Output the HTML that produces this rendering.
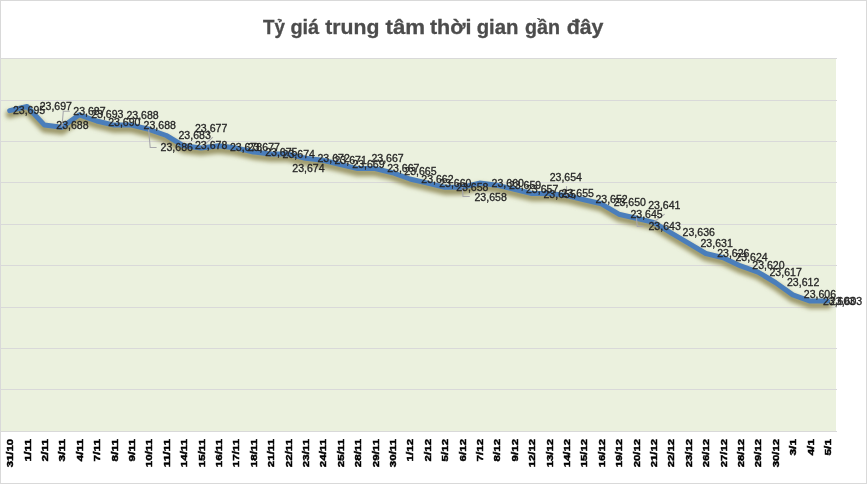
<!DOCTYPE html>
<html lang="vi">
<head>
<meta charset="utf-8">
<title>Tỷ giá trung tâm thời gian gần đây</title>
<style>
html,body{margin:0;padding:0;background:#fff;}
body{width:867px;height:484px;overflow:hidden;font-family:"Liberation Sans",sans-serif;}
svg{display:block;}
.t{font-family:"Liberation Sans",sans-serif;font-weight:bold;font-size:20.7px;fill:#4c4c4c;stroke:#4c4c4c;stroke-width:0.3px;}
.d{font-family:"Liberation Sans",sans-serif;font-size:10.4px;fill:#262626;stroke:#262626;stroke-width:0.3px;}
.a{font-family:"Liberation Sans",sans-serif;font-weight:bold;font-size:9.8px;fill:#000;stroke:#000;stroke-width:0.45px;}
.g{stroke:#d9d9d9;stroke-width:1;shape-rendering:crispEdges;}
.l{stroke:#a8a8ac;stroke-width:1.1;fill:none;}
</style>
</head>
<body>
<svg width="867" height="484" viewBox="0 0 867 484">
<defs>
<filter id="sh" x="-5%" y="-20%" width="110%" height="150%">
<feGaussianBlur stdDeviation="2.0"/>
</filter>
</defs>
<rect x="0" y="0" width="867" height="484" fill="#fff"/>
<rect x="0.5" y="0.5" width="866" height="483" fill="none" stroke="#d9d9d9" stroke-width="1"/>
<rect x="1" y="58" width="835" height="373" fill="#ebf1de"/>
<line class="g" x1="1" x2="837" y1="58.5" y2="58.5"/>
<line class="g" x1="1" x2="837" y1="100.5" y2="100.5"/>
<line class="g" x1="1" x2="837" y1="141.5" y2="141.5"/>
<line class="g" x1="1" x2="837" y1="182.5" y2="182.5"/>
<line class="g" x1="1" x2="837" y1="224.5" y2="224.5"/>
<line class="g" x1="1" x2="837" y1="265.5" y2="265.5"/>
<line class="g" x1="1" x2="837" y1="307.5" y2="307.5"/>
<line class="g" x1="1" x2="837" y1="348.5" y2="348.5"/>
<line class="g" x1="1" x2="837" y1="389.5" y2="389.5"/>
<line class="g" x1="1" x2="837" y1="431.5" y2="431.5"/>
<polyline points="9.7,110.6 27.1,106.5 44.5,125.1 61.9,127.2 79.3,114.8 96.7,121.0 114.1,125.1 131.5,125.1 148.9,129.3 166.3,135.5 183.7,145.8 201.1,147.9 218.5,145.8 235.9,147.9 253.3,152.0 270.7,154.1 288.1,154.1 305.5,158.2 322.9,160.3 340.3,164.5 357.7,168.6 375.1,168.6 392.5,172.7 409.9,179.0 427.4,183.1 444.8,187.2 462.2,187.2 479.6,183.1 497.0,185.2 514.4,189.3 531.8,193.5 549.2,193.5 566.6,195.5 584.0,199.7 601.4,203.8 618.8,214.2 636.2,218.3 653.6,222.4 671.0,232.8 688.4,243.2 705.8,253.5 723.2,257.7 740.6,265.9 758.0,272.1 775.4,282.5 792.8,294.9 810.2,301.1 827.6,301.1" transform="translate(0,3.8)" fill="none" stroke="#938e5d" stroke-opacity="0.9" stroke-width="7.8" stroke-linecap="round" stroke-linejoin="round" filter="url(#sh)"/>
<polyline points="9.7,110.6 27.1,106.5 44.5,125.1 61.9,127.2 79.3,114.8 96.7,121.0 114.1,125.1 131.5,125.1 148.9,129.3 166.3,135.5 183.7,145.8 201.1,147.9 218.5,145.8 235.9,147.9 253.3,152.0 270.7,154.1 288.1,154.1 305.5,158.2 322.9,160.3 340.3,164.5 357.7,168.6 375.1,168.6 392.5,172.7 409.9,179.0 427.4,183.1 444.8,187.2 462.2,187.2 479.6,183.1 497.0,185.2 514.4,189.3 531.8,193.5 549.2,193.5 566.6,195.5 584.0,199.7 601.4,203.8 618.8,214.2 636.2,218.3 653.6,222.4 671.0,232.8 688.4,243.2 705.8,253.5 723.2,257.7 740.6,265.9 758.0,272.1 775.4,282.5 792.8,294.9 810.2,301.1 827.6,301.1" fill="none" stroke="#4a7ebb" stroke-width="5" stroke-linecap="round" stroke-linejoin="round"/>
<path class="l" d="M61.9,127 L63.3,111.3 H69.8"/>
<path class="l" d="M148.6,129.2 L150.2,147.5 H156.6"/>
<path class="l" d="M201.3,147.7 L212.9,137.2"/>
<path class="l" d="M462.3,187 L463,196.5 H469.7"/>
<path class="l" d="M566.5,195.5 V186.1"/>
<path class="l" d="M636.4,218.1 L637.3,226.4 H643.5"/>
<path class="l" d="M653.7,222 L664.7,214.1"/>
<text class="d" x="12.9" y="113.6" textLength="32.3" lengthAdjust="spacingAndGlyphs">23,695</text>
<text class="d" x="39.7" y="109.8" textLength="32.3" lengthAdjust="spacingAndGlyphs">23,697</text>
<text class="d" x="56.3" y="128.8" textLength="32.3" lengthAdjust="spacingAndGlyphs">23,688</text>
<text class="d" x="73.3" y="114.8" textLength="32.3" lengthAdjust="spacingAndGlyphs">23,687</text>
<text class="d" x="91.2" y="117.9" textLength="32.3" lengthAdjust="spacingAndGlyphs">23,693</text>
<text class="d" x="108.2" y="125.5" textLength="32.3" lengthAdjust="spacingAndGlyphs">23,690</text>
<text class="d" x="126.4" y="118.7" textLength="32.3" lengthAdjust="spacingAndGlyphs">23,688</text>
<text class="d" x="143.6" y="128.8" textLength="32.3" lengthAdjust="spacingAndGlyphs">23,688</text>
<text class="d" x="160.6" y="150.8" textLength="32.3" lengthAdjust="spacingAndGlyphs">23,686</text>
<text class="d" x="178.5" y="138.9" textLength="32.3" lengthAdjust="spacingAndGlyphs">23,683</text>
<text class="d" x="195.0" y="149.0" textLength="32.3" lengthAdjust="spacingAndGlyphs">23,678</text>
<text class="d" x="195.0" y="131.9" textLength="32.3" lengthAdjust="spacingAndGlyphs">23,677</text>
<text class="d" x="229.9" y="151.0" textLength="32.3" lengthAdjust="spacingAndGlyphs">23,678</text>
<text class="d" x="247.7" y="151.0" textLength="32.3" lengthAdjust="spacingAndGlyphs">23,677</text>
<text class="d" x="265.2" y="155.6" textLength="32.3" lengthAdjust="spacingAndGlyphs">23,675</text>
<text class="d" x="282.6" y="157.8" textLength="32.3" lengthAdjust="spacingAndGlyphs">23,674</text>
<text class="d" x="292.3" y="172.0" textLength="32.3" lengthAdjust="spacingAndGlyphs">23,674</text>
<text class="d" x="317.5" y="161.9" textLength="32.3" lengthAdjust="spacingAndGlyphs">23,672</text>
<text class="d" x="334.5" y="163.8" textLength="32.3" lengthAdjust="spacingAndGlyphs">23,671</text>
<text class="d" x="352.3" y="167.7" textLength="32.3" lengthAdjust="spacingAndGlyphs">23,669</text>
<text class="d" x="371.4" y="161.5" textLength="32.3" lengthAdjust="spacingAndGlyphs">23,667</text>
<text class="d" x="387.2" y="171.9" textLength="32.3" lengthAdjust="spacingAndGlyphs">23,667</text>
<text class="d" x="404.3" y="175.4" textLength="32.3" lengthAdjust="spacingAndGlyphs">23,665</text>
<text class="d" x="421.3" y="183.0" textLength="32.3" lengthAdjust="spacingAndGlyphs">23,662</text>
<text class="d" x="439.2" y="186.9" textLength="32.3" lengthAdjust="spacingAndGlyphs">23,660</text>
<text class="d" x="456.2" y="191.2" textLength="32.3" lengthAdjust="spacingAndGlyphs">23,658</text>
<text class="d" x="474.5" y="200.9" textLength="32.3" lengthAdjust="spacingAndGlyphs">23,658</text>
<text class="d" x="491.6" y="186.9" textLength="32.3" lengthAdjust="spacingAndGlyphs">23,660</text>
<text class="d" x="508.9" y="189.2" textLength="32.3" lengthAdjust="spacingAndGlyphs">23,659</text>
<text class="d" x="526.0" y="192.6" textLength="32.3" lengthAdjust="spacingAndGlyphs">23,657</text>
<text class="d" x="543.5" y="197.7" textLength="32.3" lengthAdjust="spacingAndGlyphs">23,655</text>
<text class="d" x="561.6" y="196.6" textLength="32.3" lengthAdjust="spacingAndGlyphs">23,655</text>
<text class="d" x="549.7" y="180.9" textLength="32.3" lengthAdjust="spacingAndGlyphs">23,654</text>
<text class="d" x="595.4" y="203.1" textLength="32.3" lengthAdjust="spacingAndGlyphs">23,652</text>
<text class="d" x="613.7" y="206.4" textLength="32.3" lengthAdjust="spacingAndGlyphs">23,650</text>
<text class="d" x="630.4" y="217.7" textLength="32.3" lengthAdjust="spacingAndGlyphs">23,645</text>
<text class="d" x="648.5" y="230.1" textLength="32.3" lengthAdjust="spacingAndGlyphs">23,643</text>
<text class="d" x="648.2" y="208.7" textLength="32.3" lengthAdjust="spacingAndGlyphs">23,641</text>
<text class="d" x="682.6" y="235.9" textLength="32.3" lengthAdjust="spacingAndGlyphs">23,636</text>
<text class="d" x="700.5" y="247.0" textLength="32.3" lengthAdjust="spacingAndGlyphs">23,631</text>
<text class="d" x="717.2" y="256.8" textLength="32.3" lengthAdjust="spacingAndGlyphs">23,626</text>
<text class="d" x="735.4" y="260.7" textLength="32.3" lengthAdjust="spacingAndGlyphs">23,624</text>
<text class="d" x="752.3" y="268.7" textLength="32.3" lengthAdjust="spacingAndGlyphs">23,620</text>
<text class="d" x="769.5" y="275.6" textLength="32.3" lengthAdjust="spacingAndGlyphs">23,617</text>
<text class="d" x="787.0" y="285.9" textLength="32.3" lengthAdjust="spacingAndGlyphs">23,612</text>
<text class="d" x="803.8" y="298.0" textLength="32.3" lengthAdjust="spacingAndGlyphs">23,606</text>
<text class="d" x="822.9" y="305.0" textLength="32.3" lengthAdjust="spacingAndGlyphs">23,603</text>
<text class="d" x="829.9" y="305.0" textLength="32.3" lengthAdjust="spacingAndGlyphs">23,603</text>
<text class="a" transform="translate(13.1,438.9) rotate(-90)" text-anchor="end" textLength="28.3" lengthAdjust="spacingAndGlyphs">31/10</text>
<text class="a" transform="translate(30.5,438.9) rotate(-90)" text-anchor="end" textLength="22.5" lengthAdjust="spacingAndGlyphs">1/11</text>
<text class="a" transform="translate(47.9,438.9) rotate(-90)" text-anchor="end" textLength="22.5" lengthAdjust="spacingAndGlyphs">2/11</text>
<text class="a" transform="translate(65.3,438.9) rotate(-90)" text-anchor="end" textLength="22.5" lengthAdjust="spacingAndGlyphs">3/11</text>
<text class="a" transform="translate(82.7,438.9) rotate(-90)" text-anchor="end" textLength="22.5" lengthAdjust="spacingAndGlyphs">4/11</text>
<text class="a" transform="translate(100.1,438.9) rotate(-90)" text-anchor="end" textLength="22.5" lengthAdjust="spacingAndGlyphs">7/11</text>
<text class="a" transform="translate(117.5,438.9) rotate(-90)" text-anchor="end" textLength="22.5" lengthAdjust="spacingAndGlyphs">8/11</text>
<text class="a" transform="translate(134.9,438.9) rotate(-90)" text-anchor="end" textLength="22.5" lengthAdjust="spacingAndGlyphs">9/11</text>
<text class="a" transform="translate(152.3,438.9) rotate(-90)" text-anchor="end" textLength="28.3" lengthAdjust="spacingAndGlyphs">10/11</text>
<text class="a" transform="translate(169.7,438.9) rotate(-90)" text-anchor="end" textLength="28.3" lengthAdjust="spacingAndGlyphs">11/11</text>
<text class="a" transform="translate(187.1,438.9) rotate(-90)" text-anchor="end" textLength="28.3" lengthAdjust="spacingAndGlyphs">14/11</text>
<text class="a" transform="translate(204.5,438.9) rotate(-90)" text-anchor="end" textLength="28.3" lengthAdjust="spacingAndGlyphs">15/11</text>
<text class="a" transform="translate(221.9,438.9) rotate(-90)" text-anchor="end" textLength="28.3" lengthAdjust="spacingAndGlyphs">16/11</text>
<text class="a" transform="translate(239.3,438.9) rotate(-90)" text-anchor="end" textLength="28.3" lengthAdjust="spacingAndGlyphs">17/11</text>
<text class="a" transform="translate(256.7,438.9) rotate(-90)" text-anchor="end" textLength="28.3" lengthAdjust="spacingAndGlyphs">18/11</text>
<text class="a" transform="translate(274.1,438.9) rotate(-90)" text-anchor="end" textLength="28.3" lengthAdjust="spacingAndGlyphs">21/11</text>
<text class="a" transform="translate(291.5,438.9) rotate(-90)" text-anchor="end" textLength="28.3" lengthAdjust="spacingAndGlyphs">22/11</text>
<text class="a" transform="translate(308.9,438.9) rotate(-90)" text-anchor="end" textLength="28.3" lengthAdjust="spacingAndGlyphs">23/11</text>
<text class="a" transform="translate(326.3,438.9) rotate(-90)" text-anchor="end" textLength="28.3" lengthAdjust="spacingAndGlyphs">24/11</text>
<text class="a" transform="translate(343.7,438.9) rotate(-90)" text-anchor="end" textLength="28.3" lengthAdjust="spacingAndGlyphs">25/11</text>
<text class="a" transform="translate(361.1,438.9) rotate(-90)" text-anchor="end" textLength="28.3" lengthAdjust="spacingAndGlyphs">28/11</text>
<text class="a" transform="translate(378.5,438.9) rotate(-90)" text-anchor="end" textLength="28.3" lengthAdjust="spacingAndGlyphs">29/11</text>
<text class="a" transform="translate(395.9,438.9) rotate(-90)" text-anchor="end" textLength="28.3" lengthAdjust="spacingAndGlyphs">30/11</text>
<text class="a" transform="translate(413.3,438.9) rotate(-90)" text-anchor="end" textLength="22.5" lengthAdjust="spacingAndGlyphs">1/12</text>
<text class="a" transform="translate(430.7,438.9) rotate(-90)" text-anchor="end" textLength="22.5" lengthAdjust="spacingAndGlyphs">2/12</text>
<text class="a" transform="translate(448.1,438.9) rotate(-90)" text-anchor="end" textLength="22.5" lengthAdjust="spacingAndGlyphs">5/12</text>
<text class="a" transform="translate(465.5,438.9) rotate(-90)" text-anchor="end" textLength="22.5" lengthAdjust="spacingAndGlyphs">6/12</text>
<text class="a" transform="translate(482.9,438.9) rotate(-90)" text-anchor="end" textLength="22.5" lengthAdjust="spacingAndGlyphs">7/12</text>
<text class="a" transform="translate(500.3,438.9) rotate(-90)" text-anchor="end" textLength="22.5" lengthAdjust="spacingAndGlyphs">8/12</text>
<text class="a" transform="translate(517.7,438.9) rotate(-90)" text-anchor="end" textLength="22.5" lengthAdjust="spacingAndGlyphs">9/12</text>
<text class="a" transform="translate(535.1,438.9) rotate(-90)" text-anchor="end" textLength="28.3" lengthAdjust="spacingAndGlyphs">12/12</text>
<text class="a" transform="translate(552.5,438.9) rotate(-90)" text-anchor="end" textLength="28.3" lengthAdjust="spacingAndGlyphs">13/12</text>
<text class="a" transform="translate(569.9,438.9) rotate(-90)" text-anchor="end" textLength="28.3" lengthAdjust="spacingAndGlyphs">14/12</text>
<text class="a" transform="translate(587.3,438.9) rotate(-90)" text-anchor="end" textLength="28.3" lengthAdjust="spacingAndGlyphs">15/12</text>
<text class="a" transform="translate(604.7,438.9) rotate(-90)" text-anchor="end" textLength="28.3" lengthAdjust="spacingAndGlyphs">16/12</text>
<text class="a" transform="translate(622.1,438.9) rotate(-90)" text-anchor="end" textLength="28.3" lengthAdjust="spacingAndGlyphs">19/12</text>
<text class="a" transform="translate(639.5,438.9) rotate(-90)" text-anchor="end" textLength="28.3" lengthAdjust="spacingAndGlyphs">20/12</text>
<text class="a" transform="translate(656.9,438.9) rotate(-90)" text-anchor="end" textLength="28.3" lengthAdjust="spacingAndGlyphs">21/12</text>
<text class="a" transform="translate(674.3,438.9) rotate(-90)" text-anchor="end" textLength="28.3" lengthAdjust="spacingAndGlyphs">22/12</text>
<text class="a" transform="translate(691.7,438.9) rotate(-90)" text-anchor="end" textLength="28.3" lengthAdjust="spacingAndGlyphs">23/12</text>
<text class="a" transform="translate(709.1,438.9) rotate(-90)" text-anchor="end" textLength="28.3" lengthAdjust="spacingAndGlyphs">26/12</text>
<text class="a" transform="translate(726.5,438.9) rotate(-90)" text-anchor="end" textLength="28.3" lengthAdjust="spacingAndGlyphs">27/12</text>
<text class="a" transform="translate(743.9,438.9) rotate(-90)" text-anchor="end" textLength="28.3" lengthAdjust="spacingAndGlyphs">28/12</text>
<text class="a" transform="translate(761.3,438.9) rotate(-90)" text-anchor="end" textLength="28.3" lengthAdjust="spacingAndGlyphs">29/12</text>
<text class="a" transform="translate(778.7,438.9) rotate(-90)" text-anchor="end" textLength="28.3" lengthAdjust="spacingAndGlyphs">30/12</text>
<text class="a" transform="translate(796.1,438.9) rotate(-90)" text-anchor="end" textLength="16.7" lengthAdjust="spacingAndGlyphs">3/1</text>
<text class="a" transform="translate(813.5,438.9) rotate(-90)" text-anchor="end" textLength="16.7" lengthAdjust="spacingAndGlyphs">4/1</text>
<text class="a" transform="translate(830.9,438.9) rotate(-90)" text-anchor="end" textLength="16.7" lengthAdjust="spacingAndGlyphs">5/1</text>
<text class="t" x="263.0" y="34" textLength="21.9" lengthAdjust="spacingAndGlyphs">Tỷ</text>
<text class="t" x="290.4" y="34" textLength="28.8" lengthAdjust="spacingAndGlyphs">giá</text>
<text class="t" x="325.3" y="34" textLength="54.1" lengthAdjust="spacingAndGlyphs">trung</text>
<text class="t" x="385.5" y="34" textLength="39.6" lengthAdjust="spacingAndGlyphs">tâm</text>
<text class="t" x="429.9" y="34" textLength="41.6" lengthAdjust="spacingAndGlyphs">thời</text>
<text class="t" x="476.7" y="34" textLength="41.8" lengthAdjust="spacingAndGlyphs">gian</text>
<text class="t" x="525.1" y="34" textLength="35.0" lengthAdjust="spacingAndGlyphs">gần</text>
<text class="t" x="566.7" y="34" textLength="36.8" lengthAdjust="spacingAndGlyphs">đây</text>
</svg>
</body>
</html>
